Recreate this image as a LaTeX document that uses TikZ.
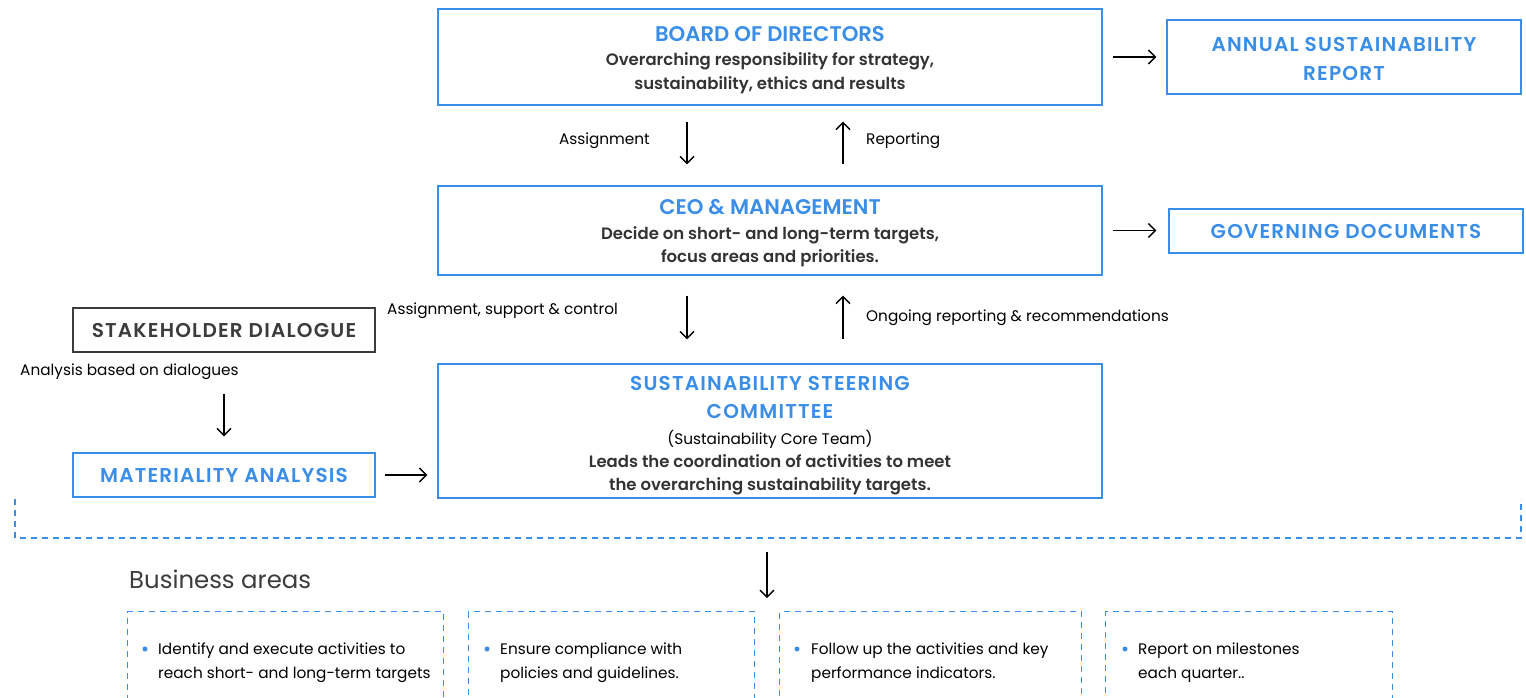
\documentclass[tikz,border=0pt]{standalone}
\usepackage{fontspec}
\setmainfont{Poppins}
\newfontfamily\spaced[LetterSpace=6]{Poppins SemiBold}
\newfontfamily\semib{Poppins SemiBold}
\usetikzlibrary{arrows.meta}
\definecolor{cblue}{RGB}{58,142,232}
\definecolor{ctext}{RGB}{51,51,51}
\definecolor{cgray}{RGB}{60,60,60}
\tikzset{
  bluebox/.style={draw=cblue,line width=1.4pt,rectangle,inner sep=0pt},
  graybox/.style={draw=cgray,line width=1.4pt,rectangle,inner sep=0pt},
  boxtext/.style={font=\fontsize{16.5}{23.5}\selectfont,align=center,inner sep=0pt},
  lbl/.style={font=\fontsize{15.3}{18}\selectfont,text=black,inner sep=0pt},
  arr/.style={-{Straight Barb[length=7pt,width=14pt,line width=1.3pt]},line width=1.3pt,black},
  dashblue/.style={draw=cblue,line width=1.3pt,dash pattern=on 6pt off 5pt},
  bul/.style={font=\fontsize{15.3}{24}\selectfont,text=black,inner sep=0pt,align=left,anchor=north west},
}
\newcommand\bcap[1]{{\color{cblue}\fontsize{20}{24}\selectfont\spaced #1}}
\newcommand\bttl[1]{{\color{cblue}\fontsize{21.2}{24}\selectfont\semib #1}}
\newcommand\bbody[1]{{\color{ctext}\fontsize{16.5}{23.5}\selectfont\semib #1}}
\begin{document}
\begin{tikzpicture}[x=1pt,y=-1pt]
\useasboundingbox (0,0) rectangle (1526,697);
% main boxes
\node[bluebox,minimum width=664pt,minimum height=96pt] (board) at (770,57) {};
\node[boxtext] (boardt) at ([yshift=-3pt]board.center)
  {\bttl{BOARD OF DIRECTORS}\\[1pt]\bbody{Overarching responsibility for strategy,}\\\bbody{sustainability, ethics and results}};
\node[bluebox,minimum width=354pt,minimum height=74pt] (annual) at (1344,57) {};
\node[boxtext] (annualt) at ([yshift=-2pt]annual.center)
  {\bcap{ANNUAL SUSTAINABILITY}\\[6pt]\bcap{REPORT}};
\node[bluebox,minimum width=664pt,minimum height=89pt] (ceo) at (770,230.5) {};
\node[boxtext] (ceot) at ([yshift=-3pt]ceo.center)
  {\bttl{CEO \& MANAGEMENT}\\[1pt]\bbody{Decide on short- and long-term targets,}\\\bbody{focus areas and priorities.}};
\node[bluebox,minimum width=354pt,minimum height=44pt] (gov) at (1346,231) {};
\node[boxtext] (govt) at (gov.center) {\bcap{GOVERNING DOCUMENTS}};
\node[graybox,minimum width=302pt,minimum height=44pt] (stake) at (224,330) {};
\node[boxtext] (staket) at (stake.center)
  {{\color{cgray}\fontsize{20}{24}\selectfont\spaced STAKEHOLDER DIALOGUE}};
\node[bluebox,minimum width=302pt,minimum height=44pt] (mat) at (224,475) {};
\node[boxtext] (matt) at (mat.center) {\bcap{MATERIALITY ANALYSIS}};
\node[bluebox,minimum width=664pt,minimum height=134pt] (steer) at (770,431) {};
\node[boxtext] (steert) at ([yshift=-4.5pt]steer.center)
  {\bcap{SUSTAINABILITY STEERING}\\[5pt]\bcap{COMMITTEE}\\[2pt]{\fontsize{15.3}{20}\selectfont\color{black}(Sustainability Core Team)}\\[-0.5pt]\bbody{Leads the coordination of activities to meet}\\\bbody{the overarching sustainability targets.}};
% horizontal arrows
\draw[arr,shorten <=10pt,shorten >=10pt] (board.east) -- (annual.west |- board.east);
\draw[arr,shorten <=10pt,shorten >=12pt] (ceo.east) -- (gov.west |- ceo.east);
\draw[arr,shorten <=9pt,shorten >=10pt] (mat.east) -- (steer.west |- mat.east);
% vertical arrows
\draw[arr,shorten <=16pt,shorten >=21pt] ([xshift=-83pt]board.south) -- ([xshift=-83pt]ceo.north);
\draw[arr,shorten <=21pt,shorten >=16pt] ([xshift=73pt]ceo.north) -- ([xshift=73pt]board.south);
\draw[arr,shorten <=20pt,shorten >=24pt] ([xshift=-83pt]ceo.south) -- ([xshift=-83pt]steer.north);
\draw[arr,shorten <=24pt,shorten >=20pt] ([xshift=73pt]steer.north) -- ([xshift=73pt]ceo.south);
\draw[arr,shorten <=41pt,shorten >=16pt] (stake.south) -- (mat.north);
% labels
\node[lbl,anchor=east] (l1) at (650,141) {Assignment};
\node[lbl,anchor=west] (l2) at (866,141) {Reporting};
\node[lbl,anchor=west] (l3) at (387,311) {Assignment, support \& control};
\node[lbl,anchor=west] (l4) at (866,318) {Ongoing reporting \& recommendations};
\node[lbl,anchor=west] (l5) at (20,372) {Analysis based on dialogues};
% dashed bracket
\coordinate (d1) at (15,499);
\coordinate (d2) at (15,538);
\coordinate (d3) at (1521,538);
\coordinate (d4) at (1521,499);
\draw[dashblue] (d1) -- (d2) -- (d3) -- (d4);
\coordinate (a1) at (767,552);
\coordinate (a2) at (767,598);
\draw[arr] (a1) -- (a2);
\node[anchor=west,inner sep=0pt,font=\fontsize{24.4}{28}\selectfont,text=cgray] (ba) at (129,579) {Business areas};
% business boxes
\node[dashblue,rectangle,anchor=north west,minimum width=316pt,minimum height=110pt] (b1) at (127,611) {};
\node[dashblue,rectangle,anchor=north west,minimum width=286pt,minimum height=110pt] (b2) at (468,611) {};
\node[dashblue,rectangle,anchor=north west,minimum width=302pt,minimum height=110pt] (b3) at (779,611) {};
\node[dashblue,rectangle,anchor=north west,minimum width=287pt,minimum height=110pt] (b4) at (1105,611) {};
\foreach \bx in {145,487,797,1125}{
  \fill[cblue] (\bx,649) circle (2.5pt);
}
\node[bul] (t1) at (158,643) {Identify and execute activities to\\reach short- and long-term targets};
\node[bul] (t2) at (500,643) {Ensure compliance with\\policies and guidelines.};
\node[bul] (t3) at (811,643) {Follow up the activities and key\\performance indicators.};
\node[bul] (t4) at (1138,643) {Report on milestones\\each quarter..};
\end{tikzpicture}
\end{document}
